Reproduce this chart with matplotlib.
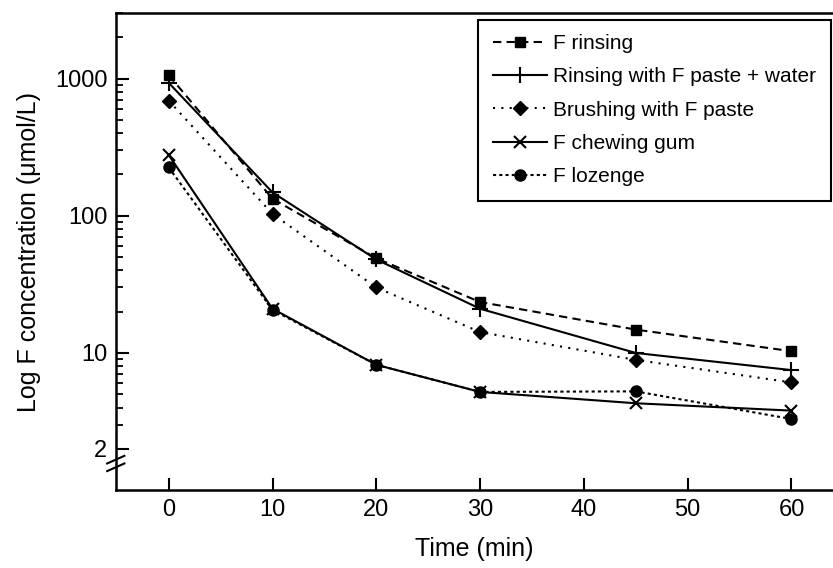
import matplotlib
matplotlib.use('Agg')
import matplotlib.pyplot as plt
import numpy as np

plt.rcParams['font.family'] = ['Liberation Sans', 'DejaVu Sans']

times = [0, 10, 20, 30, 45, 60]

f_rinsing = [1060, 133, 49, 23.5, 14.8, 10.3]
paste_water = [930, 148, 48, 21, 10, 7.5]
brushing = [690, 103, 30, 14.2, 8.9, 6.1]
chewing_gum = [277, 21, 8.2, 5.2, 4.3, 3.8]
lozenge = [225, 20.6, 8.2, 5.2, 5.25, 3.3]

labels = ['F rinsing', 'Rinsing with F paste + water', 'Brushing with F paste',
          'F chewing gum', 'F lozenge']

y_major = [2, 10, 100, 1000]
y_major_labels = ['2', '10', '100', '1000']
x_ticks = [0, 10, 20, 30, 40, 50, 60]

fig = plt.figure(figsize=(8.33, 5.68), dpi=100)
ax = fig.add_axes([0.139, 0.137, 0.861, 0.84])

lw = 1.5
ax.plot(times, f_rinsing, color='black', lw=lw, ls=(0, (4, 2.5)), marker='s', ms=7, label=labels[0])
ax.plot(times, paste_water, color='black', lw=lw, ls='-', marker='+', ms=11, mew=1.5, label=labels[1])
ax.plot(times, brushing, color='black', lw=lw, ls=(0, (1, 3)), marker='D', ms=7, label=labels[2])
ax.plot(times, chewing_gum, color='black', lw=lw, ls='-', marker='x', ms=8, mew=1.5, label=labels[3])
ax.plot(times, lozenge, color='black', lw=lw, ls=(0, (1.5, 1.5)), marker='o', ms=8, label=labels[4])

ax.set_yscale('log')
ax.set_ylim(1, 3000)
ax.set_xlim(-5.1, 64)

ax.set_yticks(y_major)
ax.set_yticklabels(y_major_labels)
minors = [v for d in [1, 10, 100, 1000] for v in np.arange(2, 10) * d if v > 2 and v <= 3000]
ax.set_yticks(minors, minor=True)
ax.yaxis.set_minor_formatter(plt.NullFormatter())
ax.set_xticks(x_ticks)

ax.tick_params(axis='both', which='major', direction='in', length=9, width=1.5, labelsize=17, pad=6)
ax.tick_params(axis='y', which='minor', direction='in', length=5, width=1.3)
ax.tick_params(axis='x', which='minor', bottom=False)

for s in ['left', 'bottom', 'top']:
    ax.spines[s].set_linewidth(1.8)
ax.spines['right'].set_visible(False)

ax.set_xlabel('Time (min)', fontsize=18, labelpad=12)
ax.set_ylabel('Log F concentration (\u03bcmol/L)', fontsize=18, labelpad=10)

# axis break marks
for dy in [0.0, 0.016]:
    ax.plot([-0.012, 0.012], [0.040 + dy, 0.056 + dy], color='black', lw=1.5,
            transform=ax.transAxes, clip_on=False)

leg = ax.legend(loc='upper right', bbox_to_anchor=(0.997, 0.986), fontsize=15,
                handlelength=2.6, handletextpad=0.3, labelspacing=0.68,
                borderpad=0.7, borderaxespad=0, fancybox=False,
                edgecolor='black', framealpha=1)
leg.get_frame().set_linewidth(1.5)

fig.savefig('out.png', dpi=100)
